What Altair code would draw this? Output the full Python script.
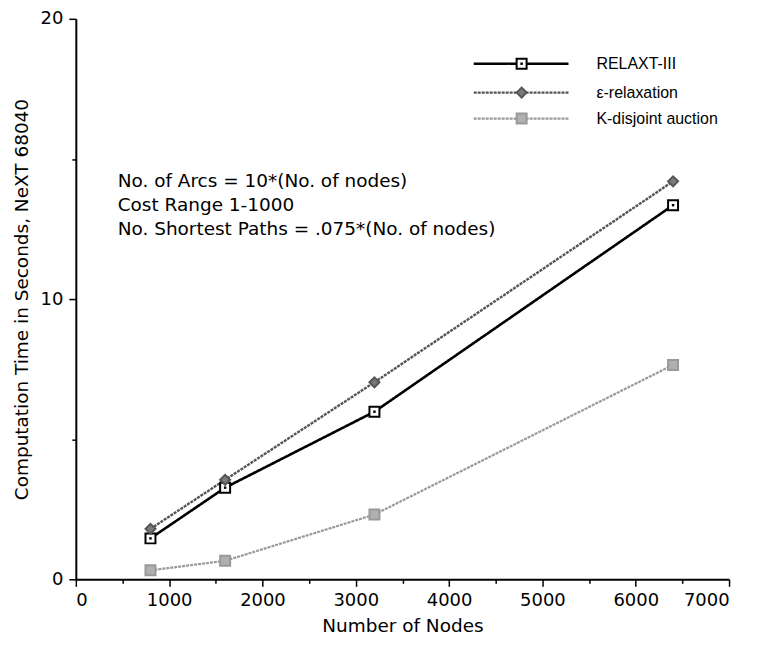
import altair as alt
import pandas as pd

series = ["RELAXT-III", "ε-relaxation", "K-disjoint auction"]
nodes = [800, 1600, 3200, 6400]
relaxt = [1.46, 3.27, 5.98, 13.35]
eps_relax = [1.80, 3.55, 7.03, 14.20]
kdisjoint = [0.32, 0.66, 2.31, 7.65]

notes = [
    "No. of Arcs = 10*(No. of nodes)",
    "Cost Range 1-1000",
    "No. Shortest Paths = .075*(No. of nodes)",
]

rows = []
for name, vals in zip(series, [relaxt, eps_relax, kdisjoint]):
    for n, v in zip(nodes, vals):
        rows.append({"series": name, "nodes": n, "time": v})
df = pd.DataFrame(rows)

FONT = "Liberation Sans"
AFONT = "DejaVu Sans"
colors = ["#000000", "#555555", "#999999"]
fills = ["#ffffff", "#7a7a7a", "#b0b0b0"]
shapes = ["square", "diamond", "square"]
widths = [2.6, 2.2, 2.0]
dashes = [[1, 0], [3, 1], [3, 1]]

xs = alt.X("nodes:Q", scale=alt.Scale(domain=[0, 7000], nice=False),
           axis=alt.Axis(title="Number of Nodes",
                         values=list(range(0, 7001, 500)),
                         labelExpr="datum.value % 1000 === 0 ? datum.label : ''",
                         tickSize={"condition": {"test": "datum.value % 1000 === 0", "value": 7}, "value": 4},
                         format="d", labelPadding=5, titlePadding=7))
ys = alt.Y("time:Q", scale=alt.Scale(domain=[0, 20], nice=False),
           axis=alt.Axis(title="Computation Time in Seconds, NeXT 68040",
                         values=[0, 5, 10, 15, 20],
                         labelExpr="datum.value % 10 === 0 ? datum.label : ''",
                         tickSize={"condition": {"test": "datum.value % 10 === 0", "value": 7}, "value": 4},
                         labelPadding=6, titlePadding=9))

col = alt.Color("series:N", scale=alt.Scale(domain=series, range=colors), legend=None)
stk = alt.Stroke("series:N", scale=alt.Scale(domain=series, range=colors), legend=None)
sw = alt.StrokeWidth("series:N", scale=alt.Scale(domain=series, range=widths), legend=None)
sd = alt.StrokeDash("series:N", scale=alt.Scale(domain=series, range=dashes), legend=None)
fl = alt.Fill("series:N", scale=alt.Scale(domain=series, range=fills), legend=None)
sh = alt.Shape("series:N", scale=alt.Scale(domain=series, range=shapes), legend=None)

base = alt.Chart(df)
lines = base.mark_line().encode(x=xs, y=ys, color=col, strokeWidth=sw, strokeDash=sd,
                                order="nodes:Q")
points = base.mark_point(size=100, strokeWidth=2, opacity=1).encode(
    x="nodes:Q", y="time:Q", shape=sh, fill=fl, stroke=stk)
dots = base.transform_filter(alt.datum.series == "RELAXT-III").mark_point(
    size=6, filled=True, color="black", shape="square", opacity=1).encode(x="nodes:Q", y="time:Q")

layers = [lines, points, dots]

# legend (one row per series)
ldf = pd.DataFrame({"series": series})
legend_rows = [45, 74, 100]
for name, yy in zip(series, legend_rows):
    sub = alt.Chart(ldf).transform_filter(alt.datum.series == name)
    layers.append(sub.mark_rule().encode(
        x=alt.value(399), x2=alt.value(494), y=alt.value(yy),
        color=col, strokeWidth=sw, strokeDash=sd))
    layers.append(sub.mark_point(size=100, strokeWidth=2, opacity=1).encode(
        x=alt.value(447), y=alt.value(yy), shape=sh, fill=fl, stroke=stk))
    if name == "RELAXT-III":
        layers.append(sub.mark_point(size=6, filled=True, color="black", shape="square", opacity=1).encode(
            x=alt.value(447), y=alt.value(yy)))
    layers.append(sub.mark_text(align="left", baseline="middle", font=FONT, fontSize=16, color="black").encode(
        x=alt.value(522), y=alt.value(yy), text="series:N"))

ndf = pd.DataFrame({"note": notes})
for note, yy in zip(notes, [163, 187, 211]):
    layers.append(alt.Chart(ndf).transform_filter(alt.datum.note == note).mark_text(
        align="left", baseline="middle", font=AFONT, fontSize=18.5, color="black").encode(
        x=alt.value(42), y=alt.value(yy), text="note:N"))

chart = alt.layer(*layers).properties(
    width=655, height=562,
    autosize=alt.AutoSizeParams(type="none"),
    padding={"left": 68, "top": 10, "right": 20, "bottom": 55},
).configure_view(stroke=None).configure_axis(
    labelFont=AFONT, titleFont=AFONT, labelFontSize=18, titleFontSize=18.5,
    titleFontWeight="normal", labelColor="black", titleColor="black",
    domainColor="black", domainWidth=2, tickColor="black", tickWidth=1.5,
    grid=False,
)

chart.save("out.html", embed_options={"renderer": "svg", "actions": False})
